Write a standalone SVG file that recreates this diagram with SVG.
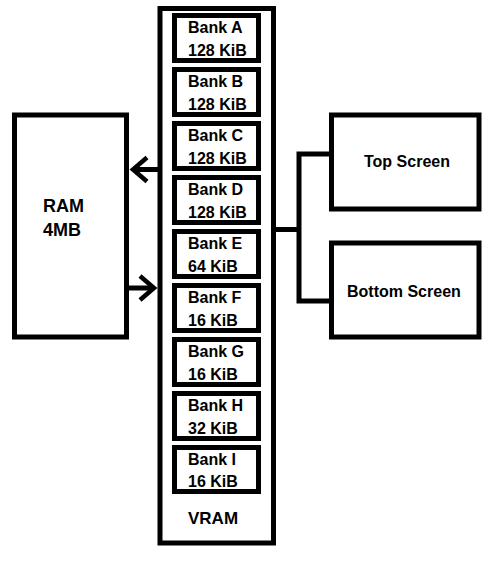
<svg xmlns="http://www.w3.org/2000/svg" width="492" height="566" viewBox="0 0 492 566">
<style>
.box{fill:#fff;stroke:#000;stroke-width:5}
.t{font-family:"Liberation Sans",Arial,sans-serif;font-weight:bold;font-size:16px;fill:#000}
.big{font-size:18px}
.c{fill:none;stroke:#000;stroke-width:5}
</style>
<defs>
<marker id="chev" markerUnits="userSpaceOnUse" viewBox="-20 -16 26 32" markerWidth="26" markerHeight="32" refX="0" refY="0" orient="auto">
<path d="M -14 -12 L 0 0 L -14 12" fill="none" stroke="#000" stroke-width="4.5"/>
</marker>
</defs>
<rect width="492" height="566" fill="#fff"/>
<g id="vram"><rect class="box" x="160" y="8.5" width="113.5" height="534.5"/><text class="t" x="188" y="524" style="font-size:17px">VRAM</text></g>
<g id="bankA"><rect class="box" x="174.5" y="15.5" width="84" height="45"/><text class="t" x="188" y="33">Bank A</text><text class="t" x="188" y="55.5">128 KiB</text></g>
<g id="bankB"><rect class="box" x="174.5" y="69.5" width="84" height="45"/><text class="t" x="188" y="87">Bank B</text><text class="t" x="188" y="109.5">128 KiB</text></g>
<g id="bankC"><rect class="box" x="174.5" y="123.5" width="84" height="45"/><text class="t" x="188" y="141">Bank C</text><text class="t" x="188" y="163.5">128 KiB</text></g>
<g id="bankD"><rect class="box" x="174.5" y="177.5" width="84" height="45"/><text class="t" x="188" y="195">Bank D</text><text class="t" x="188" y="217.5">128 KiB</text></g>
<g id="bankE"><rect class="box" x="174.5" y="231.5" width="84" height="45"/><text class="t" x="188" y="249">Bank E</text><text class="t" x="188" y="271.5">64 KiB</text></g>
<g id="bankF"><rect class="box" x="174.5" y="285.5" width="84" height="45"/><text class="t" x="188" y="303">Bank F</text><text class="t" x="188" y="325.5">16 KiB</text></g>
<g id="bankG"><rect class="box" x="174.5" y="339.5" width="84" height="45"/><text class="t" x="188" y="357">Bank G</text><text class="t" x="188" y="379.5">16 KiB</text></g>
<g id="bankH"><rect class="box" x="174.5" y="393.5" width="84" height="45"/><text class="t" x="188" y="411">Bank H</text><text class="t" x="188" y="433.5">32 KiB</text></g>
<g id="bankI"><rect class="box" x="174.5" y="447.5" width="84" height="44"/><text class="t" x="188" y="465">Bank I</text><text class="t" x="188" y="487">16 KiB</text></g>
<g id="ram"><rect class="box" x="14.5" y="115" width="112" height="222"/><text class="t big" x="43" y="212">RAM</text><text class="t big" x="43" y="236">4MB</text></g>
<g id="topScreen"><rect class="box" x="331.5" y="115" width="147.5" height="94"/><text class="t" x="364" y="167">Top Screen</text></g>
<g id="bottomScreen"><rect class="box" x="331.5" y="243" width="147.5" height="94"/><text class="t" x="347" y="297">Bottom Screen</text></g>
<g id="connectors">
<line class="c" x1="158" y1="169.5" x2="133" y2="169.5" marker-end="url(#chev)"/>
<line class="c" x1="129" y1="288" x2="154" y2="288" marker-end="url(#chev)"/>
<polyline class="c" points="276,229.5 299,229.5"/>
<polyline class="c" points="329,154 299,154 299,301 329,301"/>
</g>
</svg>
